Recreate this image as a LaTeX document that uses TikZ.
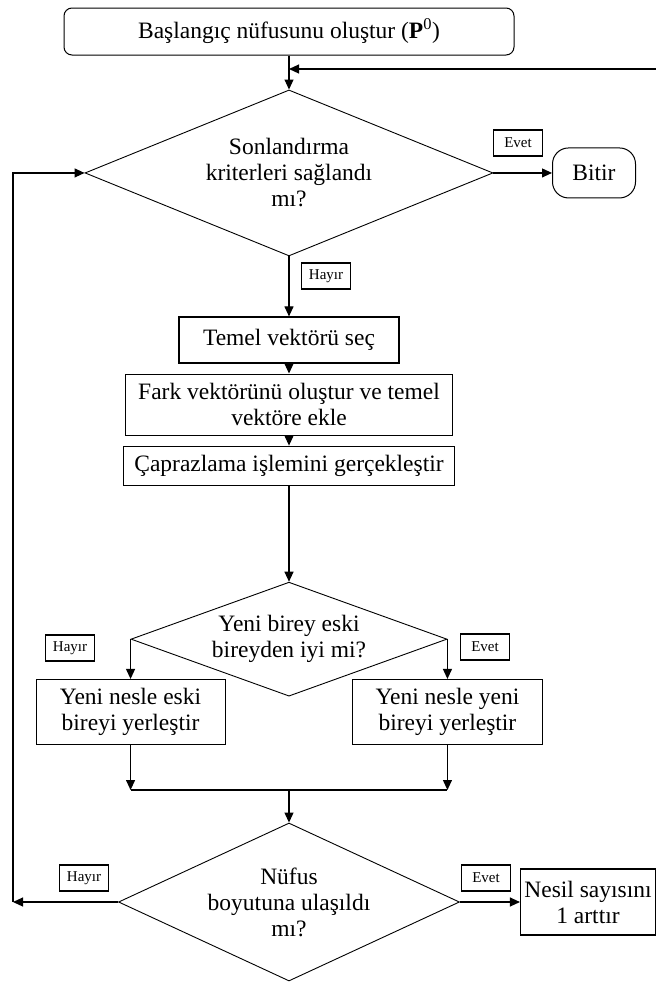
\documentclass[tikz,border=0pt]{standalone}
\usepackage{fontspec}
\setmainfont{Liberation Serif}
\usetikzlibrary{arrows.meta,chains,positioning,scopes,shapes.geometric}

\begin{document}
\begin{tikzpicture}[
        x=1pt, y=-1pt,
        >={Triangle[length=10pt, width=9pt]},
        line width=1.1pt,
        start chain = going below,
        node distance = 10pt,
        BigText/.style={font=\fontsize{23.5}{26}\selectfont},
        StartBlock/.style={draw, rounded corners=8pt, minimum width=450pt, minimum height=47pt, line width=1pt, BigText},
        ProcBlock/.style={draw, align=center, inner sep=0pt, BigText},
        DecBlock/.style={draw, diamond, align=center, inner sep=0pt, line width=0.9pt, BigText},
        EndBlock/.style={draw, rounded corners=16pt, minimum width=83pt, minimum height=50pt, line width=1pt, BigText},
        TagBlock/.style={draw, minimum width=49pt, minimum height=26pt, inner sep=1pt, font=\fontsize{15}{17}\selectfont},
    ]
    \useasboundingbox (0,0) rectangle (656,983);

    { [start chain = main going below]
        \node [StartBlock, on chain] (init) at (289,31.5) {Başlangıç nüfusunu oluştur (\textbf{P}\textsuperscript{0})};
        \node [DecBlock, on chain, yshift=-24pt, minimum width=408pt, minimum height=166pt, aspect=2.45] (stop) {Sonlandırma\\kriterleri sağlandı\\mı?};
        \node [ProcBlock, on chain, yshift=-50pt, minimum width=220pt, minimum height=46pt] (base) {Temel vektörü seç};
        \node [ProcBlock, on chain, minimum width=327pt, minimum height=61pt] (diff) {Fark vektörünü oluştur ve temel\\vektöre ekle};
        \node [ProcBlock, on chain, minimum width=331pt, minimum height=39pt] (cross) {Çaprazlama işlemini gerçekleştir};
        \node [DecBlock, on chain, yshift=-86pt, minimum width=316pt, minimum height=114pt, aspect=2.77] (better) {Yeni birey eski\\bireyden iyi mi?};
    }

    \node [EndBlock] (quit) at (stop.east -| 594,0) {Bitir};
    \node [ProcBlock, minimum width=189pt, minimum height=65pt] (older) at (better.west |- 0,712) {Yeni nesle eski\\bireyi yerleştir};
    \node [ProcBlock, minimum width=190pt, minimum height=65pt] (newer) at (better.east |- 0,712) {Yeni nesle yeni\\bireyi yerleştir};
    \node [DecBlock, minimum width=341pt, minimum height=158pt, aspect=2.16] (check) at (289,902) {Nüfus\\boyutuna ulaşıldı\\mı?};
    \node [ProcBlock, minimum width=135pt, minimum height=66pt] (count) at (588,902) {Nesil sayısını\\1 arttır};

    \node [TagBlock] (tagEvet1) at (518,143) {Evet};
    \node [TagBlock] (tagHayir1) at (326,276) {Hayır};
    \node [TagBlock] (tagHayir2) at (70,648) {Hayır};
    \node [TagBlock] (tagEvet2) at (485,647) {Evet};
    \node [TagBlock] (tagHayir3) at (84,878) {Hayır};
    \node [TagBlock] (tagEvet3) at (486,878) {Evet};

    \coordinate (back) at (656,69);
    \coordinate (join) at (289,790);
    \coordinate (loop) at (13,902);

    \draw[->] (init.south -| stop.north) -- (stop.north);
    \draw[->] (back) -- (back -| stop.north);
    \draw[->] (stop.east) -- (quit.west);
    \draw[->] (stop.south) -- (base.north);
    \draw[->] (base) -- (diff);
    \draw[->] (diff) -- (cross);
    \draw[->] (cross) -- (better);
    \draw[->] (better.west) -- (older.north);
    \draw[->] (better.east) -- (newer.north);
    \draw[->] (older.south) -- (older.south |- join);
    \draw[->] (newer.south) -- (newer.south |- join);
    \draw (older.south |- join) -- (newer.south |- join);
    \draw[->] (join) -- (check.north);
    \draw[->] (check.west) -- (loop);
    \draw[->] (loop) |- (stop.west);
    \draw[->] (check.east) -- (count.west);
\end{tikzpicture}
\end{document}
